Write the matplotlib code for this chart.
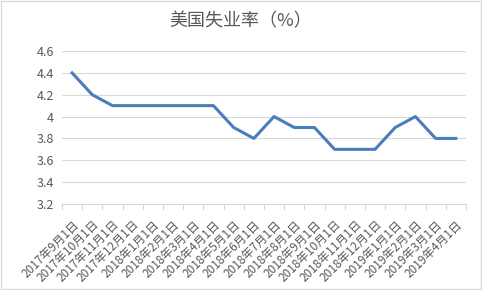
import matplotlib
matplotlib.use("Agg")
import matplotlib.pyplot as plt
from matplotlib.patches import Rectangle
import numpy as np

plt.rcParams['font.family'] = ['Noto Sans CJK SC', 'DejaVu Sans']

dates = ['2017年9月1日', '2017年10月1日', '2017年11月1日', '2017年12月1日',
         '2018年1月1日', '2018年2月1日', '2018年3月1日', '2018年4月1日',
         '2018年5月1日', '2018年6月1日', '2018年7月1日', '2018年8月1日',
         '2018年9月1日', '2018年10月1日', '2018年11月1日', '2018年12月1日',
         '2019年1月1日', '2019年2月1日', '2019年3月1日', '2019年4月1日']
rate = [4.4, 4.2, 4.1, 4.1, 4.1, 4.1, 4.1, 4.1, 3.9, 3.8,
        4.0, 3.9, 3.9, 3.7, 3.7, 3.7, 3.9, 4.0, 3.8, 3.8]
yticks = [3.2, 3.4, 3.6, 3.8, 4.0, 4.2, 4.4, 4.6]
ylabels = ['3.2', '3.4', '3.6', '3.8', '4', '4.2', '4.4', '4.6']

fig = plt.figure(figsize=(4.82, 2.9), dpi=100)
ax = fig.add_axes([0.1286, 0.2966, 0.838, 0.5275])

x = np.arange(len(dates))
ax.plot(x, rate, color='#4A7EBB', lw=2.2, solid_joinstyle='round')

ax.set_xlim(-0.5, len(dates) - 0.5)
ax.set_ylim(3.2, 4.6)
ax.set_yticks(yticks)
ax.set_yticklabels(ylabels)
ax.yaxis.grid(True, color='#D9D9D9', lw=0.8)
ax.set_axisbelow(True)
ax.tick_params(axis='y', length=0, pad=6, labelsize=9, labelcolor='#595959')

ax.set_xticks(x)
ax.set_xticklabels(dates, rotation=45, ha='right', rotation_mode='anchor')
ax.tick_params(axis='x', which='major', length=0, pad=10, labelsize=8.5, labelcolor='#595959')
ax.set_xticks(np.arange(len(dates) + 1) - 0.5, minor=True)
ax.tick_params(axis='x', which='minor', length=4, color='#D9D9D9', width=0.8)

for s in ['left', 'right', 'top']:
    ax.spines[s].set_visible(False)
ax.spines['bottom'].set_color('#D9D9D9')
ax.spines['bottom'].set_linewidth(0.8)

fig.text(0.5, 0.928, '美国失业率（%）', ha='center', va='center', fontsize=13, color='#595959')
fig.patches.append(Rectangle((0.002, 0.003), 0.995, 0.993, transform=fig.transFigure,
                             fill=False, edgecolor='#D9D9D9', lw=1))

fig.savefig('out.png', dpi=100)
